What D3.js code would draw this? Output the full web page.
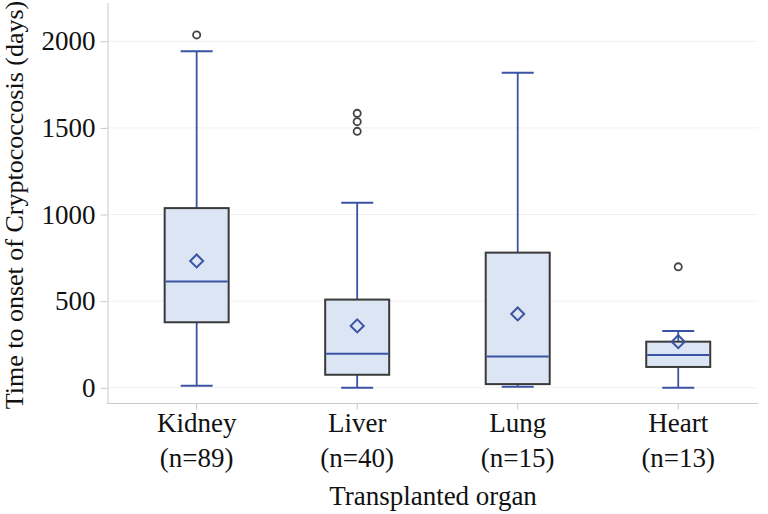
<!DOCTYPE html>
<html>
<head>
<meta charset="utf-8">
<script src="https://cdn.jsdelivr.net/npm/d3@7"></script>
<style>
    body { margin: 0; background: #fff; }
    svg { display: block; font-family: "Liberation Serif", "Times New Roman", serif; }
    .axis path, .axis line { stroke: #c8c8c8; }
    .axis text { fill: #111; font-size: 27px; font-family: "Liberation Serif", "Times New Roman", serif; }
</style>
</head>
<body>
<svg width="768" height="514"></svg>
<script>
// Data (days)
var organs = ["Kidney", "Liver", "Lung", "Heart"];
var counts = [89, 40, 15, 13];
var whiskLow = [12, 0, 6, 0];
var q1 = [378, 75, 21, 120];
var median = [613, 197, 181, 189];
var q3 = [1037, 509, 780, 266];
var whiskHigh = [1942, 1068, 1819, 328];
var means = [732, 357, 426, 266];
var outliers = [[2037], [1480, 1536, 1584], [], [698]];
var yTicks = [0, 500, 1000, 1500, 2000];

var svg = d3.select("svg");
var blue = "#3a53a4";

var y = d3.scaleLinear().domain([-88, 2221]).range([403, 3]);
var x = d3.scaleBand().domain(organs).range([116.4, 758.5]);
var boxW = 64, capW = 32;

// faint gridlines
svg.append("g").selectAll("line")
    .data(yTicks)
    .enter().append("line")
        .attr("x1", 108).attr("x2", 758)
        .attr("y1", d => y(d)).attr("y2", d => y(d))
        .attr("stroke", "#f1f1f1");

// y axis
var yAxis = svg.append("g")
    .attr("class", "axis")
    .attr("transform", "translate(107.5,0)")
    .call(d3.axisLeft(y).tickValues(yTicks).tickFormat(d3.format("d"))
        .tickSize(7).tickPadding(5).tickSizeOuter(0));
yAxis.select(".domain").attr("d", "M0.5,3V403.5");

// x axis (labels drawn separately, two lines each)
var xAxis = svg.append("g")
    .attr("class", "axis")
    .attr("transform", "translate(0,403.5)")
    .call(d3.axisBottom(x).tickSize(6).tickSizeOuter(0).tickFormat(""));
xAxis.select(".domain").attr("d", "M107.5,0H758");

var rows = organs.map((o, i) => ({
    organ: o, n: counts[i], lo: whiskLow[i], q1: q1[i], med: median[i],
    q3: q3[i], hi: whiskHigh[i], mean: means[i], out: outliers[i]
}));

var boxes = svg.append("g").selectAll("g")
    .data(rows)
    .enter().append("g")
        .attr("transform", d => "translate(" + (x(d.organ) + x.bandwidth() / 2) + ",0)");

// whiskers
boxes.append("line")
    .attr("x1", 0).attr("x2", 0)
    .attr("y1", d => y(d.hi)).attr("y2", d => y(d.lo))
    .attr("stroke", blue).attr("stroke-width", 1.8);
boxes.selectAll(".cap")
    .data(d => [d.lo, d.hi])
    .enter().append("line")
        .attr("class", "cap")
        .attr("x1", -capW / 2).attr("x2", capW / 2)
        .attr("y1", v => y(v)).attr("y2", v => y(v))
        .attr("stroke", blue).attr("stroke-width", 2);

// box
boxes.append("rect")
    .attr("x", -boxW / 2)
    .attr("width", boxW)
    .attr("y", d => y(d.q3))
    .attr("height", d => y(d.q1) - y(d.q3))
    .attr("fill", "#dbe5f4")
    .attr("stroke", "#3a3a3a")
    .attr("stroke-width", 2);

// median
boxes.append("line")
    .attr("x1", -boxW / 2 + 1).attr("x2", boxW / 2 - 1)
    .attr("y1", d => y(d.med)).attr("y2", d => y(d.med))
    .attr("stroke", blue).attr("stroke-width", 2);

// mean diamond
boxes.append("path")
    .attr("d", d => {
        var c = y(d.mean), r = 6.5;
        return "M0," + (c - r) + "L" + r + "," + c + "L0," + (c + r) + "L" + (-r) + "," + c + "Z";
    })
    .attr("fill", "none")
    .attr("stroke", blue).attr("stroke-width", 2);

// outliers
boxes.selectAll(".out")
    .data(d => d.out)
    .enter().append("circle")
        .attr("class", "out")
        .attr("cx", 0).attr("cy", v => y(v))
        .attr("r", 3.6)
        .attr("fill", "#fff")
        .attr("stroke", "#444").attr("stroke-width", 1.8);

// category labels
var labels = svg.append("g").selectAll("text")
    .data(rows)
    .enter().append("text")
        .attr("text-anchor", "middle")
        .attr("font-size", 27)
        .attr("fill", "#111");
labels.append("tspan")
    .attr("x", d => x(d.organ) + x.bandwidth() / 2)
    .attr("y", 432)
    .text(d => d.organ);
labels.append("tspan")
    .attr("x", d => x(d.organ) + x.bandwidth() / 2)
    .attr("y", 467)
    .text(d => "(n=" + d.n + ")");

// axis titles
svg.append("text")
    .attr("x", 433).attr("y", 505)
    .attr("text-anchor", "middle")
    .attr("font-size", 27)
    .attr("fill", "#111")
    .text("Transplanted organ");

svg.append("text")
    .attr("transform", "translate(23,205) rotate(-90)")
    .attr("text-anchor", "middle")
    .attr("font-size", 26)
    .attr("fill", "#111")
    .text("Time to onset of Cryptococcosis (days)");
</script>
</body>
</html>
